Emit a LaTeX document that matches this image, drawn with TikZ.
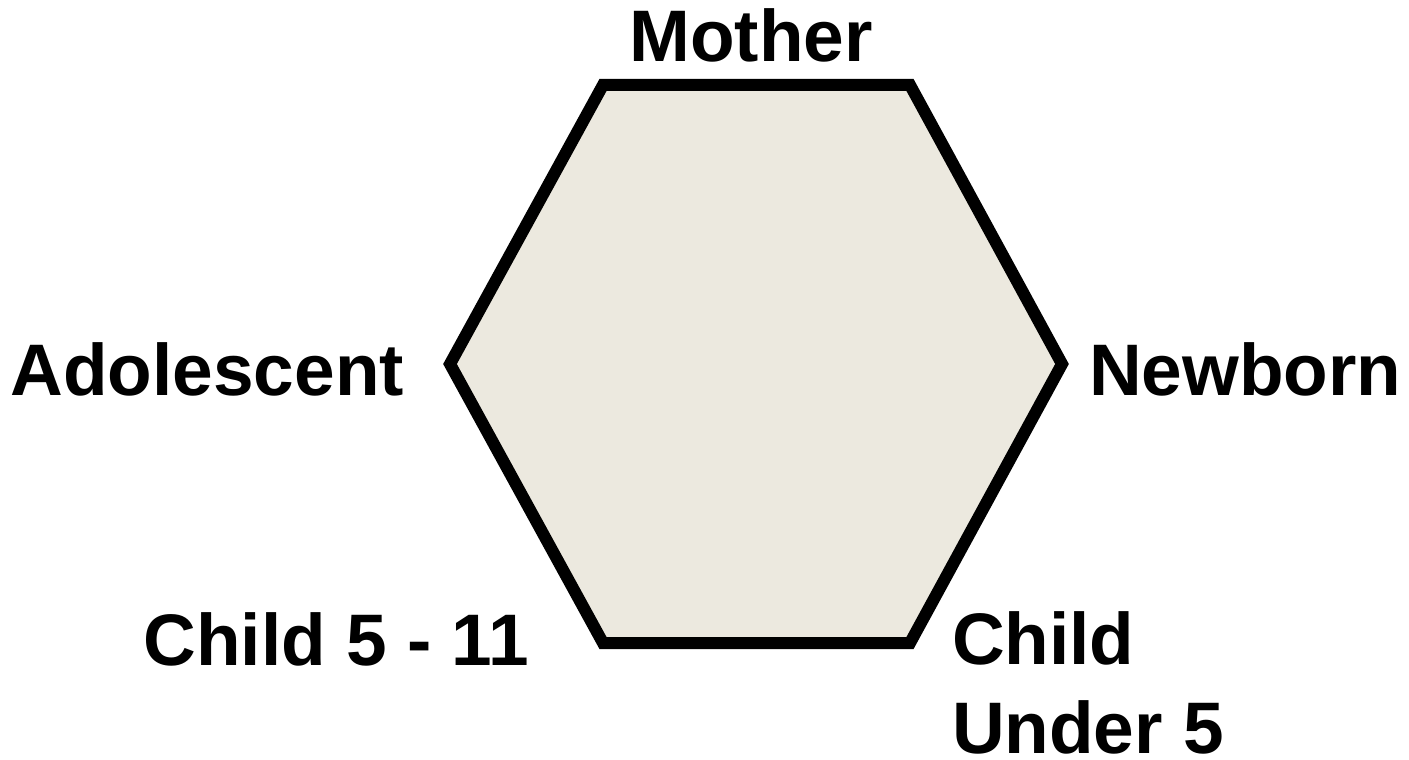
\documentclass[tikz,border=0pt]{standalone}
\usepackage{fontspec}
\setmainfont{Liberation Sans}
\definecolor{hexfill}{RGB}{236,233,223}
\begin{document}
\begin{tikzpicture}[x=1pt,y=-1pt,
  lbl/.style={inner sep=0pt,outer sep=0pt,font=\fontsize{73}{89}\selectfont\bfseries,text=black},
  hexline/.style={draw=black,line width=12pt,line join=miter,fill=hexfill}]
\useasboundingbox (0,0) rectangle (1409,760);
\coordinate (tl) at (603,85);
\coordinate (tr) at (910,85);
\coordinate (r) at (1062,364);
\coordinate (br) at (910,643);
\coordinate (bl) at (603,643);
\coordinate (l) at (450,364);
\path[hexline] (tl) -- (tr) -- (r) -- (br) -- (bl) -- (l) -- cycle;
\node[lbl,anchor=base] (mother) at (751,62) {Mother};
\node[lbl,anchor=base east] (adol) at (404,395) {Adolescent};
\node[lbl,anchor=base west] (newborn) at (1089,395) {Newborn};
\node[lbl,anchor=base east] (child511) at (529,665) {Child 5 - 11};
\node[lbl,anchor=base west,align=left,text depth=0pt] (childu5) at (952,753) {Child\\Under 5};
\end{tikzpicture}
\end{document}
